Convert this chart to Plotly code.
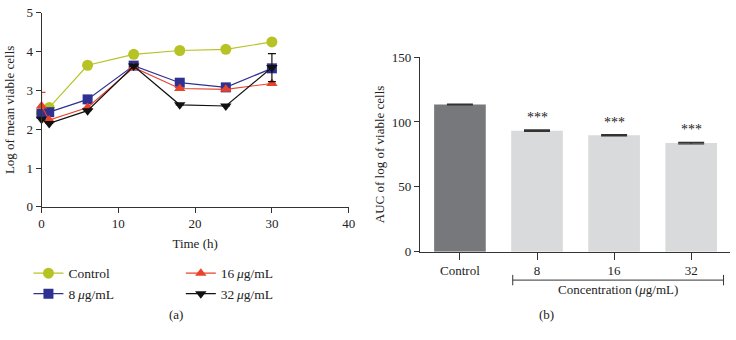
import plotly.graph_objects as go

# ---- data ----
time_h = [0, 1, 6, 12, 18, 24, 30]
control = [2.42, 2.56, 3.65, 3.93, 4.03, 4.06, 4.25]
c8 = [2.40, 2.44, 2.77, 3.64, 3.20, 3.08, 3.57]
c16 = [2.60, 2.24, 2.56, 3.59, 3.05, 3.03, 3.18]
c32 = [2.26, 2.15, 2.48, 3.63, 2.63, 2.60, 3.59]
c16_err = [0.35, 0, 0, 0, 0, 0, 0]
c32_err = [0, 0, 0, 0, 0, 0, 0.36]

auc_cats = ["Control", "8", "16", "32"]
auc_vals = [113.5, 93.3, 89.8, 83.7]
auc_err = [0.3, 0.5, 0.5, 0.6]
auc_sig = ["", "***", "***", "***"]

FONT = "Liberation Serif"
FS = 13
C_CTRL = "#b7c325"
C_8 = "#2e3192"
C_16 = "#e8432b"
C_32 = "#111111"

fig = go.Figure()

def line(y, name, color, symbol, legend, err=None, size=10):
    kw = {}
    if err is not None:
        kw["error_y"] = dict(type="data", array=err, symmetric=True, visible=True,
                             color=color, thickness=1.2, width=4)
    fig.add_trace(go.Scatter(
        x=time_h, y=y, name=name, mode="lines+markers",
        line=dict(color=color, width=1.2),
        marker=dict(color=color, symbol=symbol, size=size),
        legend=legend, cliponaxis=False, xaxis="x", yaxis="y", **kw))

line(control, "Control", C_CTRL, "circle", "legend", size=11)
line(c8, "8\u2009<i>\u03bc</i>g/mL", C_8, "square", "legend")
line(c16, "16\u2009<i>\u03bc</i>g/mL", C_16, "triangle-up", "legend2", err=c16_err)
line(c32, "32\u2009<i>\u03bc</i>g/mL", C_32, "triangle-down", "legend2", err=c32_err)

fig.add_trace(go.Bar(
    x=auc_cats, y=auc_vals, width=0.67, showlegend=False,
    marker=dict(color=["#77787b", "#d9dadb", "#d9dadb", "#d9dadb"], line=dict(width=0)),
    error_y=dict(type="data", array=auc_err, visible=True, color="#333333",
                 thickness=1.3, width=13),
    xaxis="x2", yaxis="y2"))

for i, (v, e, s) in enumerate(zip(auc_vals, auc_err, auc_sig)):
    if s:
        fig.add_annotation(x=i, y=v + e, text=s, xref="x2", yref="y2",
                           showarrow=False, xanchor="center", yanchor="bottom", yshift=3,
                           font=dict(family=FONT, size=14, color="#222"))

axis_common = dict(showline=True, linecolor="#333", linewidth=1, ticks="outside",
                   tickcolor="#333", showgrid=False, zeroline=False,
                   tickfont=dict(family=FONT, size=FS, color="#222"))

fig.update_layout(
    width=736, height=340,
    margin=dict(l=0, r=0, t=0, b=0),
    paper_bgcolor="white", plot_bgcolor="white",
    font=dict(family=FONT, size=FS, color="#222"),
    xaxis=dict(domain=[0.053, 0.4755], range=[0, 40], tickvals=[0, 10, 20, 30, 40],
               ticklen=5,
               title=dict(text="Time (h)", standoff=8, font=dict(family=FONT, size=FS)),
               anchor="y", **axis_common),
    yaxis=dict(domain=[0.385, 0.982], range=[0, 5], tickvals=[0, 1, 2, 3, 4, 5],
               ticklen=5,
               title=dict(text="Log of mean viable cells", standoff=8,
                          font=dict(family=FONT, size=FS)),
               anchor="x", **axis_common),
    xaxis2=dict(domain=[0.5734, 0.9996], range=[-0.52, 3.5], anchor="y2",
                type="category", ticklen=7, **axis_common),
    yaxis2=dict(domain=[0.247, 0.846], range=[0, 150], tickvals=[0, 50, 100, 150],
                ticklen=5,
                title=dict(text="AUC of log of viable cells", standoff=4,
                           font=dict(family=FONT, size=FS)),
                anchor="x2", **axis_common),
    legend=dict(x=0.035, y=0.228, xanchor="left", yanchor="top",
                bgcolor="rgba(0,0,0,0)", font=dict(family=FONT, size=13.5),
                tracegroupgap=0, itemwidth=30),
    legend2=dict(x=0.2446, y=0.228, xanchor="left", yanchor="top",
                 bgcolor="rgba(0,0,0,0)", font=dict(family=FONT, size=13.5),
                 tracegroupgap=0, itemwidth=30),
)

# bracket under concentration labels
yb = 1 - 285.7 / 340
fig.add_shape(type="line", xref="x2", yref="paper", x0=0.685, x1=3.42, y0=yb, y1=yb,
              line=dict(color="#333", width=1))
for xe in (0.685, 3.42):
    fig.add_shape(type="line", xref="x2", yref="paper", x0=xe, x1=xe,
                  y0=yb - 0.016, y1=yb + 0.016, line=dict(color="#333", width=1))
fig.add_annotation(x=(0.685 + 3.42) / 2, y=1 - 296 / 340, xref="x2", yref="paper",
                   xanchor="center", yanchor="middle",
                   text="Concentration (<i>\u03bc</i>g/mL)", showarrow=False,
                   font=dict(family=FONT, size=FS))

fig.add_annotation(x=175 / 736, y=1 - 322 / 340, xref="paper", yref="paper",
                   xanchor="center", yanchor="middle",
                   text="(a)", showarrow=False, font=dict(family=FONT, size=FS))
fig.add_annotation(x=550 / 736, y=1 - 322 / 340, xref="paper", yref="paper",
                   xanchor="center", yanchor="middle",
                   text="(b)", showarrow=False, font=dict(family=FONT, size=FS))

fig.write_html("out.html",
               config={"displayModeBar": False},
               post_script="document.body.style.margin='0';"
                           "document.body.style.overflow='hidden';")
